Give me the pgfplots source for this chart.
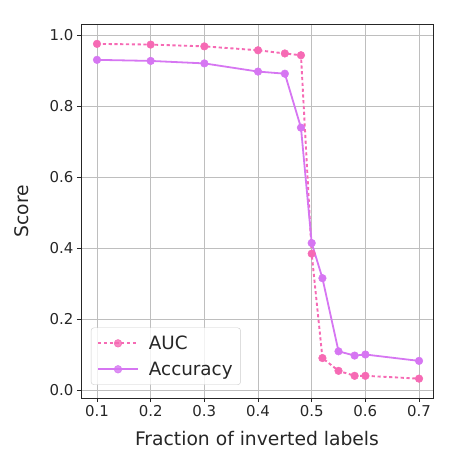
\documentclass[border=0pt]{standalone}
\usepackage{fontspec}
\setmainfont{DejaVu Sans}
\usepackage{pgfplots}
\pgfplotsset{compat=1.18}
\definecolor{aucc}{RGB}{246,106,180}
\definecolor{accc}{RGB}{214,118,242}
\definecolor{gridc}{RGB}{190,190,190}
\begin{document}
\begin{tikzpicture}[x=1bp,y=1bp]
\begin{axis}[
  scale only axis,
  width=352bp, height=374bp,
  xmin=0.0702, xmax=0.726,
  ymin=-0.0225, ymax=1.031,
  xtick={0.1,0.2,0.3,0.4,0.5,0.6,0.7},
  ytick={0,0.2,0.4,0.6,0.8,1.0},
  xticklabel style={/pgf/number format/.cd,fixed,fixed zerofill,precision=1},
  yticklabel style={/pgf/number format/.cd,fixed,fixed zerofill,precision=1},
  /pgf/number format/assume math mode=true,
  tick label style={font=\fontsize{15}{16}\selectfont, text=black!85},
  label style={font=\fontsize{18.8}{20}\selectfont, text=black!85},
  xlabel={Fraction of inverted labels},
  ylabel={Score},
  xlabel style={yshift=-8bp},
  ylabel style={yshift=14bp},
  grid=major,
  major grid style={gridc, line width=0.8bp},
  axis line style={black!85, line width=0.9bp},
  tick style={black!85, line width=0.8bp},
  tick align=outside,
  major tick length=4bp,
  xtick pos=bottom, ytick pos=left,
  legend style={at={(rel axis cs:0.028,0.035)}, anchor=south west,
    draw=black!20, rounded corners=3bp, fill=white, fill opacity=0.8, text opacity=1,
    font=\fontsize{18.4}{20}\selectfont, text=black!85,
    row sep=7bp, column sep=8bp, inner xsep=6bp, inner ysep=6bp},
  legend cell align=left,
  legend image code/.code={%
    \draw[#1, mark repeat=2, mark phase=2] plot coordinates {(0bp,0bp) (20bp,0bp) (40bp,0bp)};},
]
\addplot[aucc, line width=1.9bp, dash pattern=on 3.2bp off 2.6bp, mark=*, mark size=3.8bp, mark options={solid, draw=aucc, fill=aucc, line width=0.5bp}]
coordinates {
(0.1,0.975) (0.2,0.973) (0.3,0.968) (0.4,0.957) (0.45,0.948) (0.48,0.943)
(0.5,0.384) (0.52,0.090) (0.55,0.054) (0.58,0.040) (0.6,0.040) (0.7,0.032)
};
\addlegendentry{AUC}
\addplot[accc, line width=1.8bp, solid, mark=*, mark size=3.8bp, mark options={solid, draw=accc, fill=accc, line width=0.5bp}]
coordinates {
(0.1,0.930) (0.2,0.927) (0.3,0.920) (0.4,0.897) (0.45,0.891) (0.48,0.739)
(0.5,0.414) (0.52,0.315) (0.55,0.109) (0.58,0.097) (0.6,0.100) (0.7,0.082)
};
\addlegendentry{Accuracy}
\end{axis}
\pgfresetboundingbox
\path (current axis.south west) ++(-81bp,-54bp) coordinate (bl);
\path (current axis.north east) ++(17bp,24bp) coordinate (tr);
\path[use as bounding box] (bl) rectangle (tr);
\end{tikzpicture}
\end{document}
